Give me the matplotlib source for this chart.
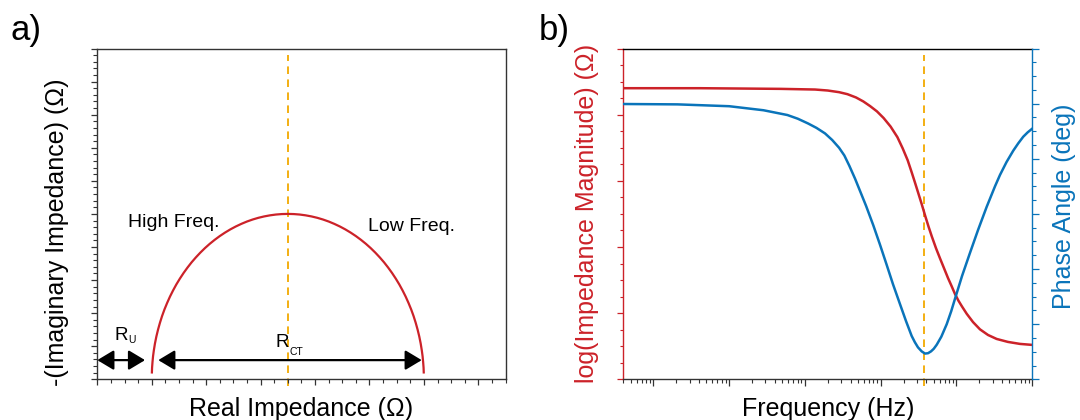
import matplotlib
matplotlib.use("Agg")
import matplotlib.pyplot as plt
from matplotlib.patches import FancyArrowPatch
from matplotlib.ticker import MultipleLocator, LogLocator, NullFormatter

plt.rcParams['font.family'] = ['Liberation Sans', 'DejaVu Sans']

# ---------------- data ----------------
# a) Nyquist plot (arbitrary units)
nyq_re = [1.002, 1.006, 1.014, 1.024, 1.038, 1.059, 1.085, 1.116, 1.151, 1.190, 1.234,
          1.283, 1.335, 1.392, 1.452, 1.517, 1.585, 1.657, 1.732, 1.811, 1.893, 1.978,
          2.066, 2.157, 2.250, 2.346, 2.444, 2.543, 2.645, 2.748, 2.853, 2.959, 3.066,
          3.174, 3.282, 3.391, 3.500,
          3.609, 3.718, 3.826, 3.934, 4.041, 4.147, 4.252, 4.355, 4.457, 4.556, 4.654,
          4.750, 4.843, 4.934, 5.022, 5.107, 5.189, 5.268, 5.343, 5.415, 5.483, 5.548,
          5.608, 5.665, 5.717, 5.766, 5.810, 5.849, 5.884, 5.915, 5.941, 5.962, 5.976,
          5.986, 5.994, 5.998]
nyq_im = [0.174, 0.349, 0.523, 0.696, 0.868, 1.082, 1.294, 1.504, 1.710, 1.913, 2.113,
          2.309, 2.500, 2.687, 2.868, 3.044, 3.214, 3.378, 3.536, 3.686, 3.830, 3.967,
          4.096, 4.217, 4.330, 4.435, 4.532, 4.619, 4.698, 4.769, 4.830, 4.882, 4.924,
          4.957, 4.981, 4.995, 5.000,
          4.995, 4.981, 4.957, 4.924, 4.882, 4.830, 4.769, 4.698, 4.619, 4.532, 4.435,
          4.330, 4.217, 4.096, 3.967, 3.830, 3.686, 3.536, 3.378, 3.214, 3.044, 2.868,
          2.687, 2.500, 2.309, 2.113, 1.913, 1.710, 1.504, 1.294, 1.082, 0.868, 0.696,
          0.523, 0.349, 0.174]
r_u_span = [0.0, 0.877]
r_ct_span = [1.12, 5.96]
arrow_level = 0.58
peak_re = 3.5

# b) Bode plot
freq_mag = [0.04, 0.413, 4.77, 13.6, 20.0, 28.2, 36.3, 47.2, 58.9, 72.3, 89.1, 109, 135,
            166, 195, 227, 256, 282, 310, 347, 384, 427, 472, 537, 605, 684, 773, 861,
            955, 1059, 1183, 1365, 1652, 2042, 2606, 3388, 4775, 6887, 10000]
log_mag = [4.40, 4.40, 4.39, 4.38, 4.365, 4.34, 4.31, 4.26, 4.20, 4.13, 4.05, 3.95, 3.82,
           3.66, 3.49, 3.31, 3.13, 2.98, 2.83, 2.65, 2.48, 2.31, 2.16, 1.98, 1.83, 1.68,
           1.53, 1.41, 1.29, 1.19, 1.10, 0.99, 0.865, 0.755, 0.67, 0.61, 0.565, 0.535, 0.52]
freq_phase = [0.04, 0.208, 1.0, 2.84, 5.87, 8.04, 11.0, 14.2, 18.4, 22.9, 28.2, 33.1,
              38.5, 45.8, 52.7, 64.0, 79.8, 97.9, 120, 145, 180, 216, 256, 282, 310, 347,
              384, 421, 461, 501, 548, 631, 743, 851, 955, 1183, 1507, 1923, 2500, 3221,
              3750, 4571, 5610, 6531, 7603, 8710, 10000]
phase = [-15.1, -15.2, -15.7, -16.8, -18.1, -19.1, -20.4, -21.6, -23.1, -24.9, -27.0,
         -29.1, -31.9, -35.4, -38.5, -42.8, -48.1, -53.4, -58.9, -64.1, -69.6, -74.2,
         -78.2, -79.9, -81.3, -82.4, -83.0, -82.9, -82.4, -81.7, -80.6, -78.4, -75.0,
         -71.5, -68.1, -61.9, -55.6, -49.4, -43.1, -37.5, -34.4, -30.9, -27.8, -25.8,
         -24.0, -22.8, -21.8]
peak_freq = 372

# ---------------- style ----------------
RED = '#CC2229'
BLUE = '#0A74BA'
ORANGE = '#F2A900'
AX = '#333333'

fig = plt.figure(figsize=(10.8, 4.2), dpi=100)
axA = fig.add_axes([0.0901, 0.0969, 0.378, 0.7876])
axB = fig.add_axes([0.5771, 0.0969, 0.3787, 0.7876])


def style_ticks(ax, axis, color, maj=4.5, mi=2.6):
    ax.tick_params(axis=axis, which='major', direction='out', length=maj, width=0.9,
                   color=color, labelleft=False, labelbottom=False, labelright=False)
    ax.tick_params(axis=axis, which='minor', direction='out', length=mi, width=0.8,
                   color=color)

# ---------------- panel a ----------------
axA.plot(nyq_re, nyq_im, color=RED, lw=1.6, solid_capstyle='butt',
         solid_joinstyle='round')
axA.set_xlim(0, 7.5)
axA.set_ylim(0, 10)
axA.xaxis.set_major_locator(MultipleLocator(1))
axA.xaxis.set_minor_locator(MultipleLocator(0.25))
axA.yaxis.set_major_locator(MultipleLocator(1))
axA.yaxis.set_minor_locator(MultipleLocator(0.2))
style_ticks(axA, 'x', AX)
style_ticks(axA, 'y', AX)
for s in axA.spines.values():
    s.set_color(AX)
    s.set_linewidth(1.0)
axA.axvline(peak_re, ymin=-0.02, ymax=0.98, color=ORANGE, lw=1.3, dashes=(4.2, 3.0),
            clip_on=False, zorder=1)

for span in (r_u_span, r_ct_span):
    arr = FancyArrowPatch((span[0], arrow_level), (span[1], arrow_level),
                          arrowstyle='<|-|>,head_length=1.0,head_width=0.6',
                          mutation_scale=10, shrinkA=0, shrinkB=0,
                          color='black', lw=1.6, zorder=3, clip_on=False)
    axA.add_patch(arr)

axA.text(0.325, 1.19, 'R', fontsize=13.5, ha='left', va='baseline')
axA.text(0.564, 1.09, 'U', fontsize=7.5, ha='left', va='baseline')
axA.text(3.267, 0.985, 'R', fontsize=13.5, ha='left', va='baseline')
axA.text(3.53, 0.735, 'CT', fontsize=7.5, ha='left', va='baseline')
axA.text(0.57, 4.61, 'High Freq.', fontsize=14, ha='left', va='baseline')
axA.text(4.97, 4.49, 'Low Freq.', fontsize=14, ha='left', va='baseline')

axA.set_xlabel('Real Impedance (Ω)', fontsize=18)
axA.xaxis.label.set_va('baseline')
axA.xaxis.set_label_coords(0.5, -0.111)
axA.set_ylabel('-(Imaginary Impedance) (Ω)', fontsize=18)
axA.yaxis.set_label_coords(-0.069, 0.445)

# ---------------- panel b ----------------
axB.plot(freq_mag, log_mag, color=RED, lw=1.8, solid_joinstyle='round')
axB.set_xscale('log')
axB.set_xlim(0.04, 1e4)
axB.set_ylim(0, 5)
axB.xaxis.set_major_locator(LogLocator(base=10, numticks=20))
axB.xaxis.set_minor_locator(LogLocator(base=10, subs=range(2, 10), numticks=40))
axB.xaxis.set_minor_formatter(NullFormatter())
axB.yaxis.set_major_locator(MultipleLocator(1))
axB.yaxis.set_minor_locator(MultipleLocator(0.25))
style_ticks(axB, 'x', AX, maj=5, mi=3)
style_ticks(axB, 'y', RED, maj=4.5, mi=2.5)
axB.axvline(peak_freq, ymin=-0.02, ymax=0.98, color=ORANGE, lw=1.3, dashes=(4.2, 3.0),
            clip_on=False, zorder=1)

axP = axB.twinx()
axP.plot(freq_phase, phase, color=BLUE, lw=1.8, solid_joinstyle='round')
axP.set_ylim(-90, 0)
axP.yaxis.set_major_locator(MultipleLocator(15))
axP.yaxis.set_minor_locator(MultipleLocator(3.75))
axP.tick_params(axis='y', which='major', direction='out', length=5, width=0.9,
                color=BLUE, labelright=False)
axP.tick_params(axis='y', which='minor', direction='out', length=3, width=0.8,
                color=BLUE)

axB.spines['top'].set_color('black')
axB.spines['bottom'].set_color(AX)
axB.spines['left'].set_color(RED)
axB.spines['right'].set_visible(False)
for s in axB.spines.values():
    s.set_linewidth(1.0)
for side in ('top', 'bottom', 'left'):
    axP.spines[side].set_visible(False)
axP.spines['right'].set_color(BLUE)
axP.spines['right'].set_linewidth(1.0)

axB.set_xlabel('Frequency (Hz)', fontsize=18)
axB.xaxis.label.set_va('baseline')
axB.xaxis.set_label_coords(0.5, -0.111)
axB.set_ylabel('log(Impedance Magnitude) (Ω)', fontsize=18, color=RED)
axB.yaxis.set_label_coords(-0.059, 0.5)
axP.set_ylabel('Phase Angle (deg)', fontsize=18, color=BLUE)
axP.yaxis.set_label_coords(1.048, 0.524)

fig.text(0.0093, 0.905, 'a)', fontsize=25, ha='left', va='baseline')
fig.text(0.499, 0.905, 'b)', fontsize=25, ha='left', va='baseline')

fig.savefig('out.png', dpi=100)
